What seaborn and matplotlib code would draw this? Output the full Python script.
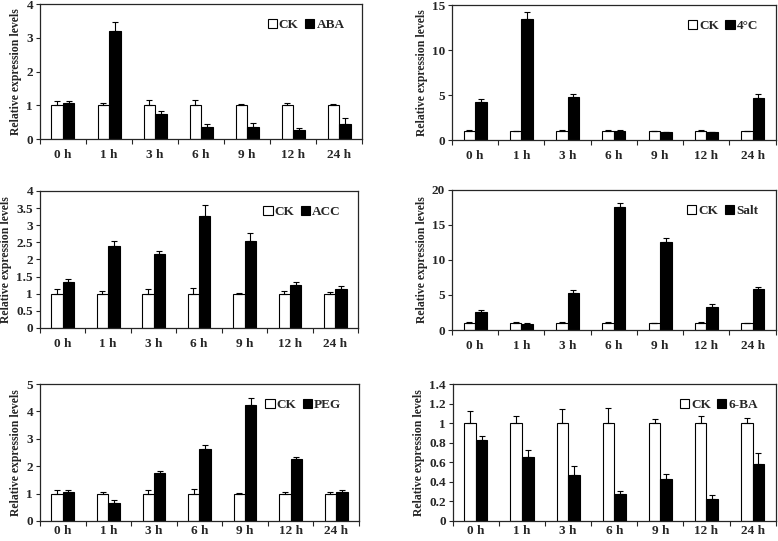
"""Relative expression levels of a gene under six treatments (CK vs treatment)."""

import matplotlib
matplotlib.use("Agg")
import matplotlib.pyplot as plt
from matplotlib.ticker import FuncFormatter, MultipleLocator, FixedLocator
import numpy as np
import pandas as pd
import seaborn as sns

times = ["0 h", "1 h", "3 h", "6 h", "9 h", "12 h", "24 h"]

ck_mean = [1, 1, 1, 1, 1, 1, 1]

# ABA
aba_ck_err = [0.13, 0.07, 0.15, 0.16, 0.03, 0.07, 0.05]
aba_mean = [1.06, 3.2, 0.73, 0.36, 0.37, 0.26, 0.46]
aba_err = [0.07, 0.28, 0.11, 0.08, 0.10, 0.08, 0.15]

# 4 degrees
cold_ck_err = [0.08, 0.06, 0.1, 0.15, 0.05, 0.07, 0.05]
cold_mean = [4.26, 13.5, 4.74, 1.05, 0.85, 0.85, 4.7]
cold_err = [0.35, 0.75, 0.4, 0.1, 0.05, 0.05, 0.48]

# ACC
acc_ck_err = [0.13, 0.07, 0.14, 0.15, 0.03, 0.07, 0.05]
acc_mean = [1.35, 2.39, 2.16, 3.26, 2.55, 1.25, 1.14]
acc_err = [0.08, 0.15, 0.08, 0.34, 0.22, 0.08, 0.08]

# Salt
salt_ck_err = [0.1, 0.08, 0.1, 0.1, 0.05, 0.1, 0.05]
salt_mean = [2.6, 0.9, 5.33, 17.5, 12.5, 3.3, 5.8]
salt_err = [0.25, 0.1, 0.45, 0.7, 0.7, 0.35, 0.4]

# PEG
peg_ck_err = [0.14, 0.07, 0.15, 0.17, 0.03, 0.07, 0.05]
peg_mean = [1.05, 0.67, 1.75, 2.62, 4.22, 2.26, 1.05]
peg_err = [0.09, 0.08, 0.08, 0.14, 0.29, 0.08, 0.09]

# 6-BA
ba_ck_err = [0.13, 0.07, 0.15, 0.16, 0.04, 0.07, 0.05]
ba_mean = [0.83, 0.65, 0.47, 0.28, 0.43, 0.225, 0.585]
ba_err = [0.04, 0.08, 0.09, 0.03, 0.05, 0.04, 0.11]

panels = [
    ("ABA", aba_ck_err, aba_mean, aba_err, 4, 1),
    ("4°C", cold_ck_err, cold_mean, cold_err, 15, 5),
    ("ACC", acc_ck_err, acc_mean, acc_err, 4, 0.5),
    ("Salt", salt_ck_err, salt_mean, salt_err, 20, 5),
    ("PEG", peg_ck_err, peg_mean, peg_err, 5, 1),
    ("6-BA", ba_ck_err, ba_mean, ba_err, 1.4, 0.2),
]

# axes rectangles in figure fractions (left, bottom, width, height)
rects = [
    (0.0514, 0.743, 0.414, 0.2495),
    (0.581, 0.741, 0.416, 0.2495),
    (0.0514, 0.394, 0.409, 0.253),
    (0.581, 0.390, 0.416, 0.259),
    (0.0514, 0.0370, 0.410, 0.253),
    (0.582, 0.0370, 0.415, 0.253),
]

sns.set_style("ticks")
plt.rcParams["font.family"] = ["Liberation Serif", "DejaVu Serif"]
plt.rcParams["font.weight"] = "bold"
plt.rcParams["axes.linewidth"] = 0.9

fig = plt.figure(figsize=(7.78, 5.41), dpi=100)

for i, ((treat, ck_err, t_mean, t_err, ymax, ystep), rect) in enumerate(zip(panels, rects)):
    ax = fig.add_axes(rect)
    df = pd.DataFrame({
        "time": times * 2,
        "group": ["CK"] * len(times) + [treat] * len(times),
        "value": ck_mean + t_mean,
    })
    sns.barplot(
        data=df, x="time", y="value", hue="group", order=times,
        hue_order=["CK", treat], palette={"CK": "white", treat: "black"},
        edgecolor="black", linewidth=0.8, width=0.5, errorbar=None, ax=ax,
    )
    for container, errs in zip(ax.containers, [ck_err, t_err]):
        xs = [b.get_x() + b.get_width() / 2 for b in container]
        hs = [b.get_height() for b in container]
        ax.errorbar(xs, hs, yerr=[np.zeros(len(errs)), errs], fmt="none",
                    ecolor="black", elinewidth=0.8, capsize=2.5, capthick=0.8)

    ax.set_xlim(-0.5, len(times) - 0.5)
    ax.set_ylim(0, ymax)
    ax.yaxis.set_major_locator(MultipleLocator(ystep))
    ax.yaxis.set_major_formatter(FuncFormatter(lambda v, p: f"{v:g}"))
    ax.xaxis.set_minor_locator(FixedLocator(np.arange(-0.5, len(times), 1)))
    xpad = 3 if i >= 4 else 7
    ax.tick_params(axis="x", which="major", length=0, labelsize=9.5, pad=xpad)
    ax.tick_params(axis="x", which="minor", length=3.5, width=0.8, direction="out")
    ax.tick_params(axis="y", length=3, width=0.8, labelsize=9.5, pad=2)
    for lab in ax.get_xticklabels() + ax.get_yticklabels():
        lab.set_fontweight("bold")
    ax.set_xlabel("")
    ax.set_ylabel("Relative expression levels", fontsize=8.5, fontweight="bold", labelpad=3)
    for sp in ax.spines.values():
        sp.set_visible(True)
        sp.set_linewidth(0.9)

    handles, labels = ax.get_legend_handles_labels()
    ax.legend(handles, labels, ncol=2, loc="upper right", frameon=False,
              bbox_to_anchor=(0.97, 0.95), handlelength=0.7, handleheight=0.7,
              handletextpad=0.15, columnspacing=0.5, borderaxespad=0.2,
              prop={"size": 9.5, "weight": "bold"})

fig.savefig("out.png", dpi=100, facecolor="white")
plt.close(fig)
